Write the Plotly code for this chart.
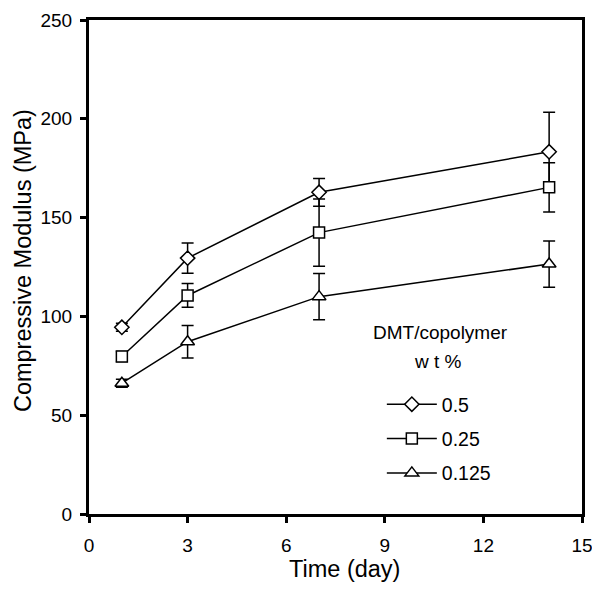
import plotly.graph_objects as go

days = [1, 3, 7, 14]
series_names = ["0.5", "0.25", "0.125"]
mod_05 = [94.5, 129.5, 162.8, 183.3]
err_05 = [2, 7.7, 7, 20]
mod_025 = [79.7, 110.6, 142.4, 165.3]
err_025 = [2.5, 6, 17, 12.5]
mod_0125 = [66.2, 87.2, 110, 126.5]
err_0125 = [2, 8.2, 11.7, 11.7]
symbols = ["diamond", "square", "triangle-up"]
sizes = [11, 11, 12]

x_ticks = [0, 3, 6, 9, 12, 15]
y_ticks = [0, 50, 100, 150, 200, 250]

FONT = "Liberation Sans, Arial, sans-serif"

fig = go.Figure()
for i, (name, vals, errs, sym, sz) in enumerate(zip(series_names, [mod_05, mod_025, mod_0125],
                                                   [err_05, err_025, err_0125], symbols, sizes)):
    fig.add_trace(go.Scatter(
        x=days, y=vals, name=name, mode="lines+markers",
        line=dict(color="black", width=1.5),
        marker=dict(symbol=sym, size=sz, color="white",
                    line=dict(color="black", width=1.5)),
        error_y=dict(type="data", array=errs, visible=True, color="black",
                     thickness=1.5, width=6),
        legendgroup=f"g{i}",
    ))

axis_common = dict(showline=True, linecolor="black", linewidth=3, mirror=True,
                   ticks="outside", ticklen=6, tickwidth=3, tickcolor="black",
                   showgrid=False, zeroline=False, automargin=False,
                   ticklabeloverflow="allow",
                   tickfont=dict(family=FONT, size=19, color="black"))

fig.update_xaxes(range=[0, 15], tickvals=x_ticks, ticklabelstandoff=6, **axis_common)
fig.update_yaxes(range=[0, 250], tickvals=y_ticks, ticklabelstandoff=4, **axis_common)

fig.add_annotation(xref="paper", yref="paper", x=-0.1339, y=0.514, text="Compressive Modulus (MPa)",
                   textangle=-90, showarrow=False, xanchor="center", yanchor="middle",
                   font=dict(family=FONT, size=23.5, color="black"))
fig.add_annotation(xref="paper", yref="paper", x=0.519, y=-0.1113, text="Time (day)",
                   showarrow=False, xanchor="center", yanchor="middle",
                   font=dict(family=FONT, size=23.5, color="black"))
fig.add_annotation(xref="paper", yref="paper", x=0.712, y=0.3664, text="DMT/copolymer",
                   showarrow=False, xanchor="center", yanchor="middle",
                   font=dict(family=FONT, size=19, color="black"))
fig.add_annotation(xref="paper", yref="paper", x=0.708, y=0.3077, text="w t %",
                   showarrow=False, xanchor="center", yanchor="middle",
                   font=dict(family=FONT, size=19, color="black"))

fig.update_layout(
    width=592, height=582,
    margin=dict(l=81, r=18, t=12, b=76, autoexpand=False),
    plot_bgcolor="white", paper_bgcolor="white",
    showlegend=True,
    legend=dict(x=0.594, y=0.1518, xanchor="left", yanchor="middle",
                font=dict(family=FONT, size=19.5, color="black"),
                tracegroupgap=6, bgcolor="rgba(0,0,0,0)", itemwidth=50),
)

fig.write_html("out.html")
